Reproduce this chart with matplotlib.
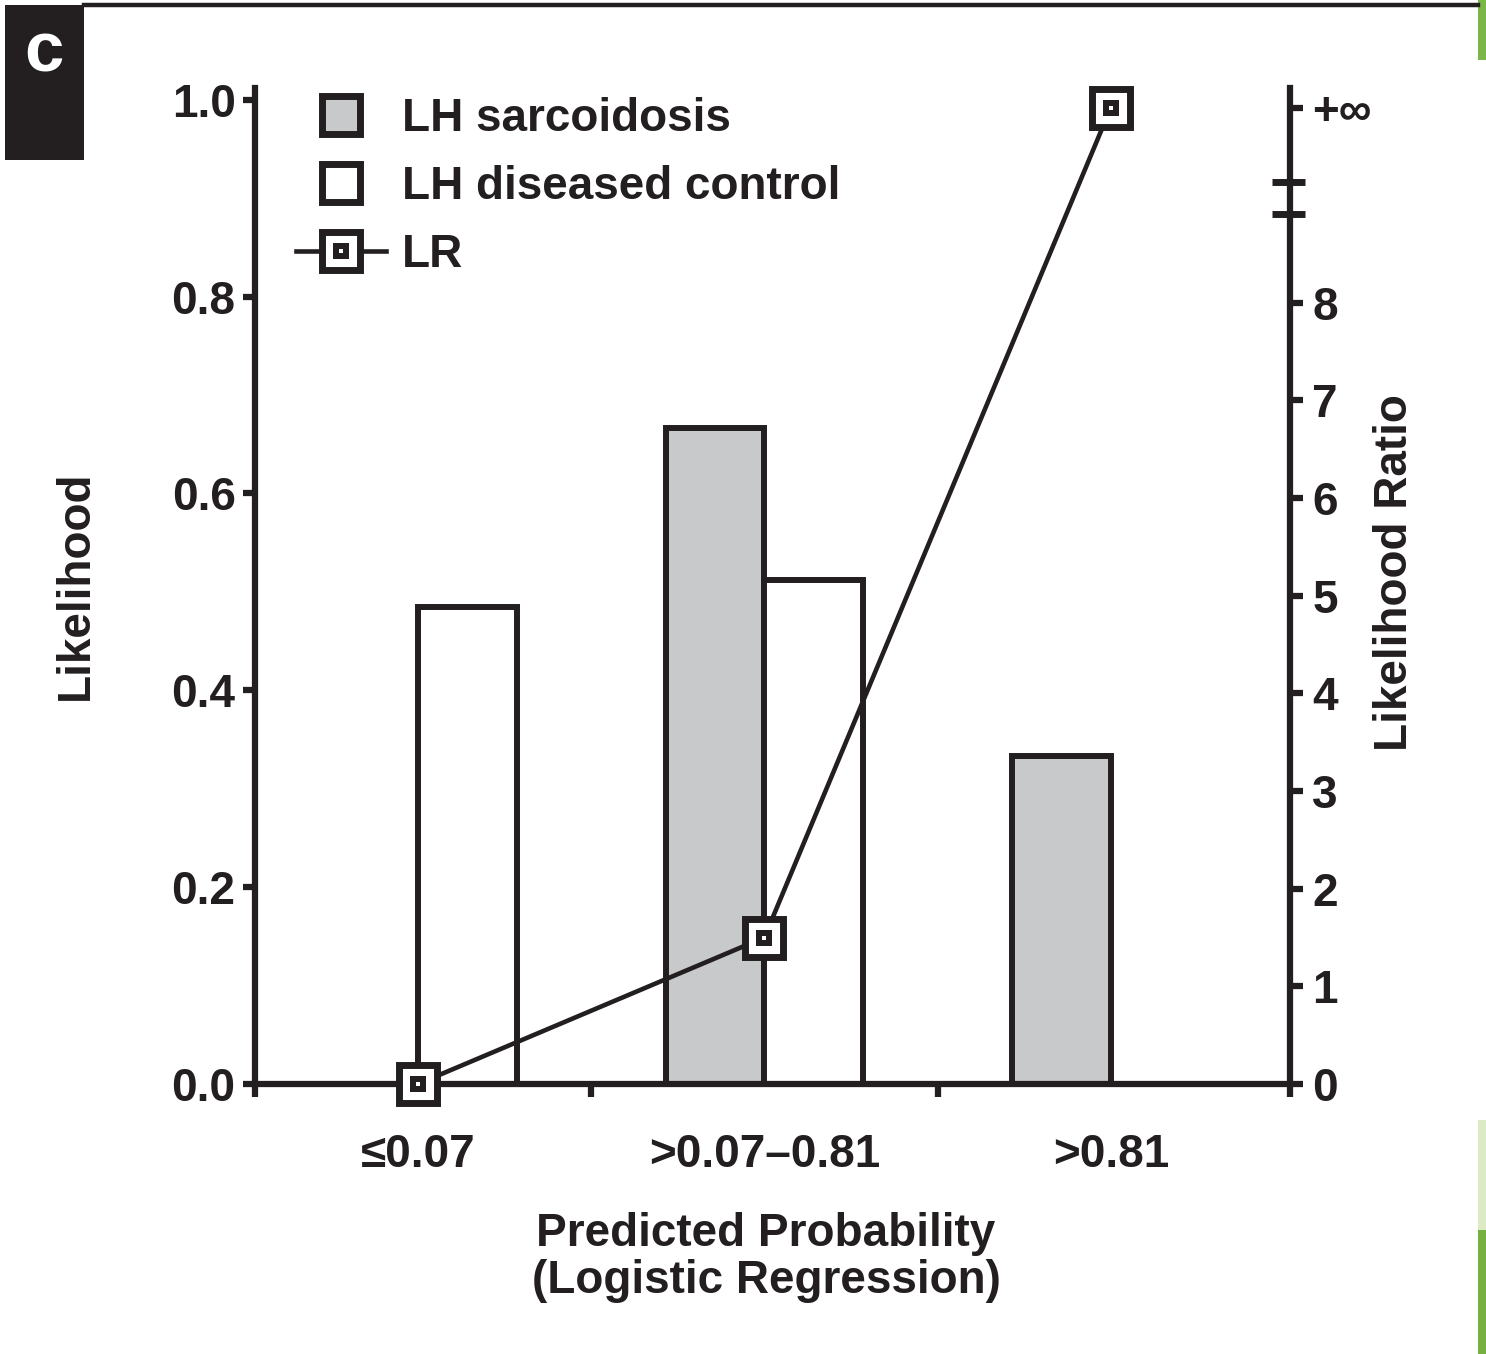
import numpy as np
import matplotlib
matplotlib.use("Agg")
import matplotlib.pyplot as plt
import matplotlib.transforms as mtransforms
from matplotlib.lines import Line2D
from matplotlib.patches import Rectangle

plt.rcParams['font.family'] = ['Liberation Sans', 'DejaVu Sans']
plt.rcParams['font.weight'] = 'bold'
plt.rcParams['axes.labelweight'] = 'bold'

INK = "#231f20"
GREY = "#c8c9cb"
W, H = 1486, 1354

# data
categories = ["≤0.07", ">0.07–0.81", ">0.81"]
lh_sarcoidosis = [0.0, 0.667, 0.333]
lh_control = [0.485, 0.512, 0.0]
lr_values = [0.0, 1.5, np.inf]
INF_POS = 10  # where +inf sits on the LR axis
lr_ticks = [0, 1, 2, 3, 4, 5, 6, 7, 8, INF_POS]
lr_ticklabels = ["0", "1", "2", "3", "4", "5", "6", "7", "8", "+∞"]
lh_ticks = [0.0, 0.2, 0.4, 0.6, 0.8, 1.0]

fig = plt.figure(figsize=(W / 100, H / 100), dpi=100)
ax = fig.add_axes([255 / W, 1 - 1084 / H, (1290 - 255) / W, (1084 - 88) / H])
ax2 = ax.twinx()

x = np.arange(len(categories))
bw = 0.285
ax.bar(x - bw / 2, lh_sarcoidosis, bw, color=GREY, edgecolor=INK, linewidth=4.3, zorder=2)
ax.bar(x + bw / 2, lh_control, bw, color="white", edgecolor=INK, linewidth=4.3, zorder=2)

xlo, xhi = -0.47, 2.517
ax.set_xlim(xlo, xhi)
ax.set_ylim(0, 1.012)
ax.set_xticks([xlo, 0.5, 1.5, xhi])
ax.set_xticklabels([])
ax.set_xticks(x, categories, minor=True)
ax.tick_params(axis="x", which="major", direction="out", length=9, width=4.5, color=INK)
ax.tick_params(axis="x", which="minor", length=0, pad=35, labelsize=33, labelcolor=INK)
ax.set_yticks(lh_ticks, [f"{v:.1f}" for v in lh_ticks])
ax.tick_params(axis="y", direction="out", length=9, width=4.5, pad=5, labelsize=33,
               color=INK, labelcolor=INK)
for s in ["top", "right"]:
    ax.spines[s].set_visible(False)
for s in ["left", "bottom"]:
    ax.spines[s].set_linewidth(4.5)
    ax.spines[s].set_color(INK)

# likelihood ratio on the right axis
lr_plot = [INF_POS if np.isinf(v) else v for v in lr_values]
ax2.plot(x, lr_plot, color=INK, lw=3.3, clip_on=False, zorder=3)
ax2.plot(x, lr_plot, ls="none", marker="s", ms=26.7, mfc="white", mec=INK, mew=5,
         clip_on=False, zorder=4)
ax2.plot(x, lr_plot, ls="none", marker="s", ms=12, mfc=INK, mew=0, clip_on=False, zorder=5)
ax2.plot(x, lr_plot, ls="none", marker="s", ms=2.5, mfc="white", mew=0, clip_on=False, zorder=6)
ax2.set_ylim(0, 10.2)
ax2.set_yticks(lr_ticks, lr_ticklabels)
ax2.tick_params(axis="y", direction="out", length=9, width=4.5, pad=7, labelsize=33,
                color=INK, labelcolor=INK)
for s in ["top", "left", "bottom"]:
    ax2.spines[s].set_visible(False)
ax2.spines["right"].set_linewidth(4.5)
ax2.spines["right"].set_color(INK)

# axis break marks
trans = mtransforms.blended_transform_factory(ax2.transAxes, ax2.transData)
for yb in [8.91, 9.24]:
    ax2.plot([0.9826, 1.0145], [yb, yb], transform=trans, color=INK, lw=5, clip_on=False,
             solid_capstyle="butt")

ax.set_ylabel("Likelihood", fontsize=33, color=INK, fontweight="bold")
ax.yaxis.set_label_coords(-0.173, 0.501)
ax.yaxis.label.set_va("center")
ax2.set_ylabel("Likelihood Ratio", fontsize=33, color=INK, fontweight="bold")
ax2.yaxis.set_label_coords(1.1014, 0.513)
ax2.yaxis.label.set_va("center")
ax.set_xlabel("Predicted Probability\n(Logistic Regression)", fontsize=33, color=INK,
              linespacing=1.08, fontweight="bold")
ax.xaxis.set_label_coords(0.4937, -0.1745)
ax.xaxis.label.set_va("center")

# legend
h_sarc = Line2D([], [], ls="none", marker="s", ms=26.7, mfc=GREY, mec=INK, mew=5)
h_ctrl = Line2D([], [], ls="none", marker="s", ms=26.7, mfc="white", mec=INK, mew=5)
h_lr = (Line2D([], [], color=INK, lw=3.3),
        Line2D([], [], ls="none", marker="s", ms=26.7, mfc="white", mec=INK, mew=5),
        Line2D([], [], ls="none", marker="s", ms=12, mfc=INK, mew=0),
        Line2D([], [], ls="none", marker="s", ms=2.5, mfc="white", mew=0))
leg = ax2.legend([h_sarc, h_ctrl, h_lr], ["LH sarcoidosis", "LH diseased control", "LR"],
                 loc="upper left", bbox_to_anchor=(296 / W, 1 - 97 / H),
                 bbox_transform=fig.transFigure, frameon=False, fontsize=33,
                 handlelength=1.96, handletextpad=0.35, labelspacing=0.52,
                 borderpad=0, borderaxespad=0, numpoints=1)
for t in leg.get_texts():
    t.set_color(INK)

# panel label and page decorations
fig.add_artist(Rectangle((5 / W, 1 - 160 / H), 79 / W, 155 / H, transform=fig.transFigure,
                         color=INK, lw=0))
fig.text(44 / W, 1 - 53 / H, "c", color="white", fontsize=51, ha="center", va="center")
fig.add_artist(Line2D([84 / W, 1478 / W], [1 - 5 / H, 1 - 5 / H], transform=fig.transFigure,
                      color=INK, lw=3.2))
fig.add_artist(Rectangle((1478 / W, 1 - 60 / H), 8 / W, 60 / H, transform=fig.transFigure,
                         color="#7ab648", lw=0))
fig.add_artist(Rectangle((1478 / W, 1 - 1230 / H), 8 / W, 110 / H, transform=fig.transFigure,
                         color="#dcebc5", lw=0))
fig.add_artist(Rectangle((1478 / W, 0), 8 / W, 124 / H, transform=fig.transFigure,
                         color="#76b041", lw=0))

fig.savefig("out.png", dpi=100)
